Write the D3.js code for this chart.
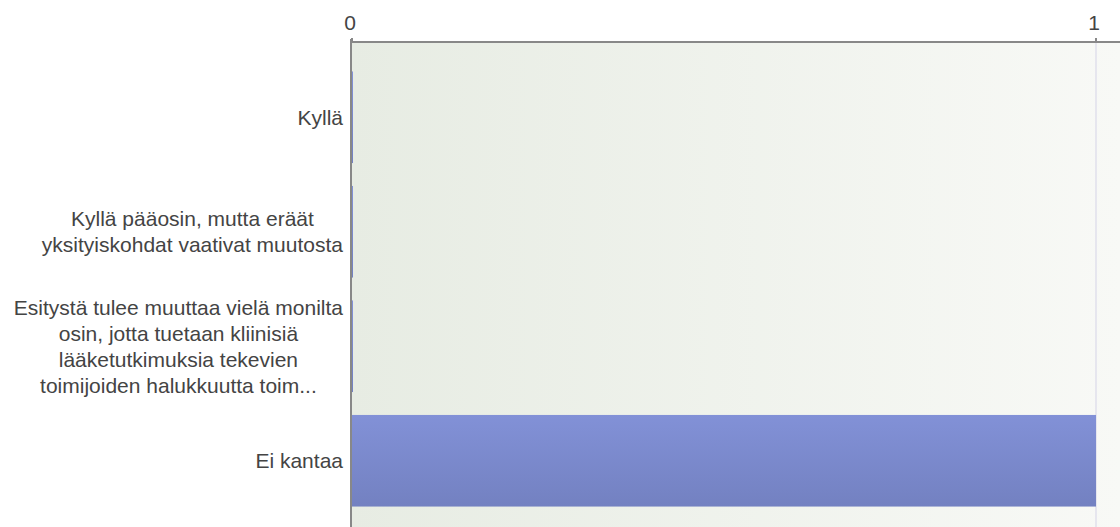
<!DOCTYPE html>
<html>
<head>
<meta charset="utf-8">
<script src="https://cdn.jsdelivr.net/npm/d3@7"></script>
<style>
  body { margin:0; background:#fff; }
  text { font-family: "Liberation Sans", Arial, sans-serif; fill:#444; }
</style>
</head>
<body>
<div class="canvas"></div>
<script>
const categories = [
  ["Kyllä"],
  ["Kyllä pääosin, mutta eräät", "yksityiskohdat vaativat muutosta"],
  ["Esitystä tulee muuttaa vielä monilta", "osin, jotta tuetaan kliinisiä", "lääketutkimuksia tekevien", "toimijoiden halukkuutta toim..."],
  ["Ei kantaa"]
]
const values = [0, 0, 0, 1]
const ticks = [0, 1]

const dims = {width:1120, height:527}
const plot = {left:352, right:1096, top:42, bottom:527}

const svg = d3.select('.canvas')
    .append('svg')
    .attr('width', dims.width)
    .attr('height', dims.height)

const defs = svg.append('defs')
const bg = defs.append('linearGradient').attr('id','bg')
    .attr('x1','0').attr('x2','1').attr('y1','0').attr('y2','0')
bg.append('stop').attr('offset','0%').attr('stop-color','#e7ece3')
bg.append('stop').attr('offset','100%').attr('stop-color','#f8f9f6')

const barGrad = defs.append('linearGradient').attr('id','bar')
    .attr('x1','0').attr('x2','0').attr('y1','0').attr('y2','1')
barGrad.append('stop').attr('offset','0%').attr('stop-color','#8291d7')
barGrad.append('stop').attr('offset','100%').attr('stop-color','#7381c1')

const x = d3.scaleLinear().domain([0, 1]).range([plot.left, plot.right])
const y = d3.scaleBand().domain(d3.range(categories.length))
    .range([60, 518]).paddingInner(0.2).paddingOuter(0.1)

// background
svg.append('rect')
    .attr('x', plot.left).attr('y', plot.top)
    .attr('width', dims.width - plot.left).attr('height', plot.bottom - plot.top)
    .attr('fill', 'url(#bg)')

// grid lines
svg.selectAll('.grid').data(ticks.filter(t => t > 0))
    .enter().append('line')
    .attr('x1', d => x(d)).attr('x2', d => x(d))
    .attr('y1', plot.top).attr('y2', plot.bottom)
    .attr('stroke', '#e6e6ee').attr('stroke-width', 2)

// bars
svg.selectAll('.bar').data(values)
    .enter().append('rect')
    .attr('x', x(0))
    .attr('y', (d, i) => y(i))
    .attr('width', d => Math.max(1, x(d) - x(0)))
    .attr('height', y.bandwidth())
    .attr('fill', 'url(#bar)')

// axes
svg.append('line')
    .attr('x1', plot.left).attr('x2', dims.width)
    .attr('y1', plot.top).attr('y2', plot.top)
    .attr('stroke', '#888').attr('stroke-width', 2)
svg.append('line')
    .attr('x1', plot.left - 1).attr('x2', plot.left - 1)
    .attr('y1', plot.top - 3).attr('y2', plot.bottom)
    .attr('stroke', '#888').attr('stroke-width', 2)

svg.selectAll('.tick').data(ticks)
    .enter().append('line')
    .attr('x1', d => x(d)).attr('x2', d => x(d))
    .attr('y1', plot.top - 4).attr('y2', plot.top)
    .attr('stroke', '#888').attr('stroke-width', 2)

svg.selectAll('.ticklabel').data(ticks)
    .enter().append('text')
    .attr('x', d => x(d) - 2)
    .attr('y', 30)
    .attr('text-anchor', 'middle')
    .attr('font-size', 21)
    .text(d => d)

// category labels: block right-aligned, lines centred inside the block
const lineH = 26
const labelRight = 343
categories.forEach((lines, i) => {
  const cy = y(i) + y.bandwidth() / 2
  const g = svg.append('g')
  const spans = lines.map((l, j) => g.append('text')
      .attr('font-size', 21)
      .attr('text-anchor', 'middle')
      .attr('y', cy + (j - (lines.length - 1) / 2) * lineH + 7.5)
      .text(l))
  const w = d3.max(spans, s => s.node().getComputedTextLength())
  spans.forEach(s => s.attr('x', labelRight - w / 2))
})
</script>
</body>
</html>
